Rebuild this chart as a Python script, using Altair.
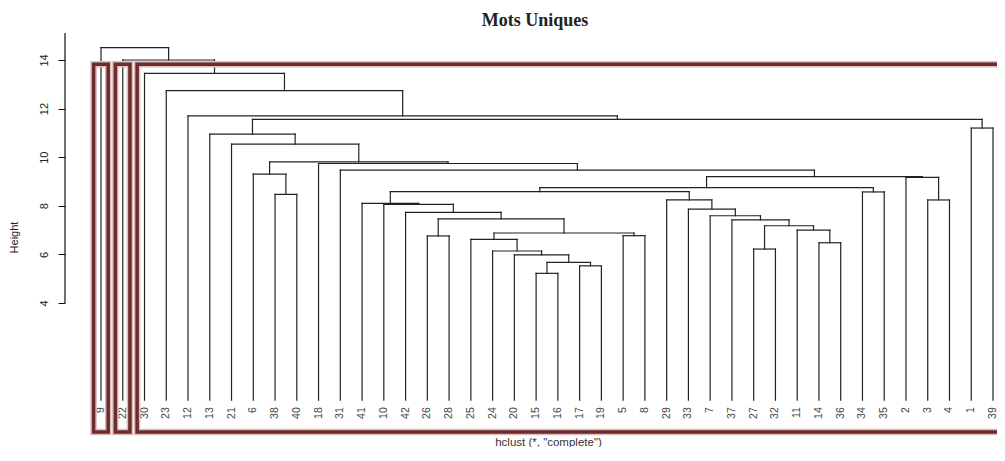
import altair as alt
import pandas as pd

# ---------------- data ----------------
leaf_labels = ["9", "22", "30", "23", "12", "13", "21", "6", "38", "40", "18", "31", "41",
               "10", "42", "26", "28", "25", "24", "20", "15", "16", "17", "19", "5", "8",
               "29", "33", "7", "37", "27", "32", "11", "14", "36", "34", "35", "2", "3",
               "4", "1", "39"]

merge_names = ["root", "n1", "n2", "n3", "n4", "n5", "b", "a", "c", "d", "e", "g", "f", "h",
               "i", "k", "l", "j", "jj", "m", "nn", "p", "q", "r", "s", "t", "v", "u", "w",
               "x", "y", "z", "aa", "o", "ab", "ac", "ad", "ae", "af", "ag", "ah"]
merge_left = ["9", "22", "30", "23", "12", "a", "1", "13", "21", "e", "6", "38", "18", "31",
              "j", "2", "3", "m", "34", "nn", "41", "10", "42", "s", "26", "u", "5", "25",
              "24", "20", "z", "15", "17", "29", "33", "7", "37", "af", "27", "11", "14"]
merge_right = ["n1", "n2", "n3", "n4", "n5", "b", "39", "c", "d", "f", "g", "40", "h", "i",
               "k", "l", "4", "jj", "35", "o", "p", "q", "r", "t", "28", "v", "8", "w", "x",
               "y", "aa", "16", "19", "ab", "ac", "ad", "ae", "ag", "32", "ah", "36"]
merge_height = [14.51, 14.00, 13.45, 12.74, 11.70, 11.56, 11.20, 10.95, 10.54, 9.81, 9.30,
                8.47, 9.74, 9.47, 9.20, 9.17, 8.24, 8.75, 8.57, 8.58, 8.10, 8.06, 7.73, 7.46,
                6.76, 6.88, 6.77, 6.62, 6.14, 5.98, 5.67, 5.22, 5.53, 8.24, 7.86, 7.59, 7.42,
                7.18, 6.22, 7.00, 6.48]

# rect.hclust(k = 3) boxes, in leaf-index units
box_left = [0.66, 1.66, 2.66]
box_right = [1.33, 2.33, 42.33]
box_top = [13.82, 13.82, 13.82]
box_bottom = [-1.31, -1.31, -1.31]

y_ticks = [4, 6, 8, 10, 12, 14]
y_axis_span = [4, 15.11]

# ---------------- dendrogram layout ----------------
children = {n: (l, r, h) for n, l, r, h in zip(merge_names, merge_left, merge_right, merge_height)}
leaf_pos = {lab: i + 1 for i, lab in enumerate(leaf_labels)}
pos = {}


def place(node):
    if node in pos:
        return pos[node]
    if node in leaf_pos:
        pos[node] = (leaf_pos[node], 0.0)
        return pos[node]
    l, r, h = children[node]
    xl, _ = place(l)
    xr, _ = place(r)
    pos[node] = ((xl + xr) / 2.0, h)
    return pos[node]


segs = []
for n in merge_names:
    l, r, h = children[n]
    xl, hl = place(l)
    xr, hr = place(r)
    segs.append({"x": xl, "x2": xl, "y": hl, "y2": h})
    segs.append({"x": xr, "x2": xr, "y": hr, "y2": h})
    segs.append({"x": xl, "x2": xr, "y": h, "y2": h})
seg_df = pd.DataFrame(segs)

leaf_df = pd.DataFrame({"label": leaf_labels, "x": [leaf_pos[l] for l in leaf_labels],
                        "y": [0.0] * len(leaf_labels)})
box_df = pd.DataFrame({"x": box_left, "x2": box_right, "y": box_bottom, "y2": box_top})
axis_df = pd.DataFrame({"y": [y_axis_span[0]], "y2": [y_axis_span[1]]})

# ---------------- scales ----------------
xs = alt.Scale(domain=[-0.6547, 42.184], nice=False, zero=False)
ys = alt.Scale(domain=[-1.473, 15.111], nice=False, zero=False)

x_axis = alt.Axis(labels=False, ticks=False, domain=False, grid=False,
                  title='hclust (*, "complete")', titleFont="Liberation Sans",
                  titleFontSize=11.5, titleFontWeight="normal", titleColor="#333333",
                  titleX=483, titleY=6, titleBaseline="middle", titleAlign="center")
y_axis = alt.Axis(values=y_ticks, domain=False, grid=False, tickSize=7, tickColor="#111111",
                  tickWidth=1, labelAngle=270, labelAlign="center", labelBaseline="bottom",
                  labelPadding=9, labelFont="Liberation Sans", labelFontSize=11,
                  labelColor="#222222", title="Height", titleFont="Liberation Sans",
                  titleFontSize=11, titleFontWeight="normal", titleColor="#222222",
                  titleAngle=270, titleX=-51, titleY=204, titleAlign="center",
                  titleBaseline="middle")

lines = alt.Chart(seg_df).mark_rule(color="#222222", strokeWidth=1.2, strokeCap="square").encode(
    x=alt.X("x:Q", scale=xs, axis=x_axis),
    x2="x2:Q",
    y=alt.Y("y:Q", scale=ys, axis=y_axis),
    y2="y2:Q",
)

yline = alt.Chart(axis_df).mark_rule(color="#111111", strokeWidth=1.2).encode(
    x=alt.value(0),
    y=alt.Y("y:Q", scale=ys),
    y2="y2:Q",
)

labels = alt.Chart(leaf_df).mark_text(angle=270, align="right", baseline="middle", dx=-7,
                                      font="Liberation Sans", fontSize=10.5,
                                      color="#444444").encode(
    x=alt.X("x:Q", scale=xs),
    y=alt.Y("y:Q", scale=ys),
    text="label:N",
)

halo = alt.Chart(box_df).mark_rect(fillOpacity=0, stroke="#dcbcbc", strokeWidth=6.5,
                                   clip=True).encode(
    x=alt.X("x:Q", scale=xs), x2="x2:Q", y=alt.Y("y:Q", scale=ys), y2="y2:Q")
boxes = alt.Chart(box_df).mark_rect(fillOpacity=0, stroke="#6a2c2c", strokeWidth=3.5,
                                    clip=True).encode(
    x=alt.X("x:Q", scale=xs), x2="x2:Q", y=alt.Y("y:Q", scale=ys), y2="y2:Q")

chart = alt.layer(lines, yline, labels, halo, boxes).properties(
    width=932,
    height=403,
    autosize=alt.AutoSizeParams(type="none"),
    padding={"left": 57, "top": 25, "right": 0, "bottom": 11},
    title=alt.TitleParams("Mots Uniques", font="Liberation Serif", fontSize=18,
                          fontWeight="bold", color="#222222", anchor="middle",
                          baseline="middle", offset=13, dy=20, dx=4),
    background="white",
).configure_view(stroke=None)

chart.save("out.html", embed_options={"renderer": "svg", "actions": False})
